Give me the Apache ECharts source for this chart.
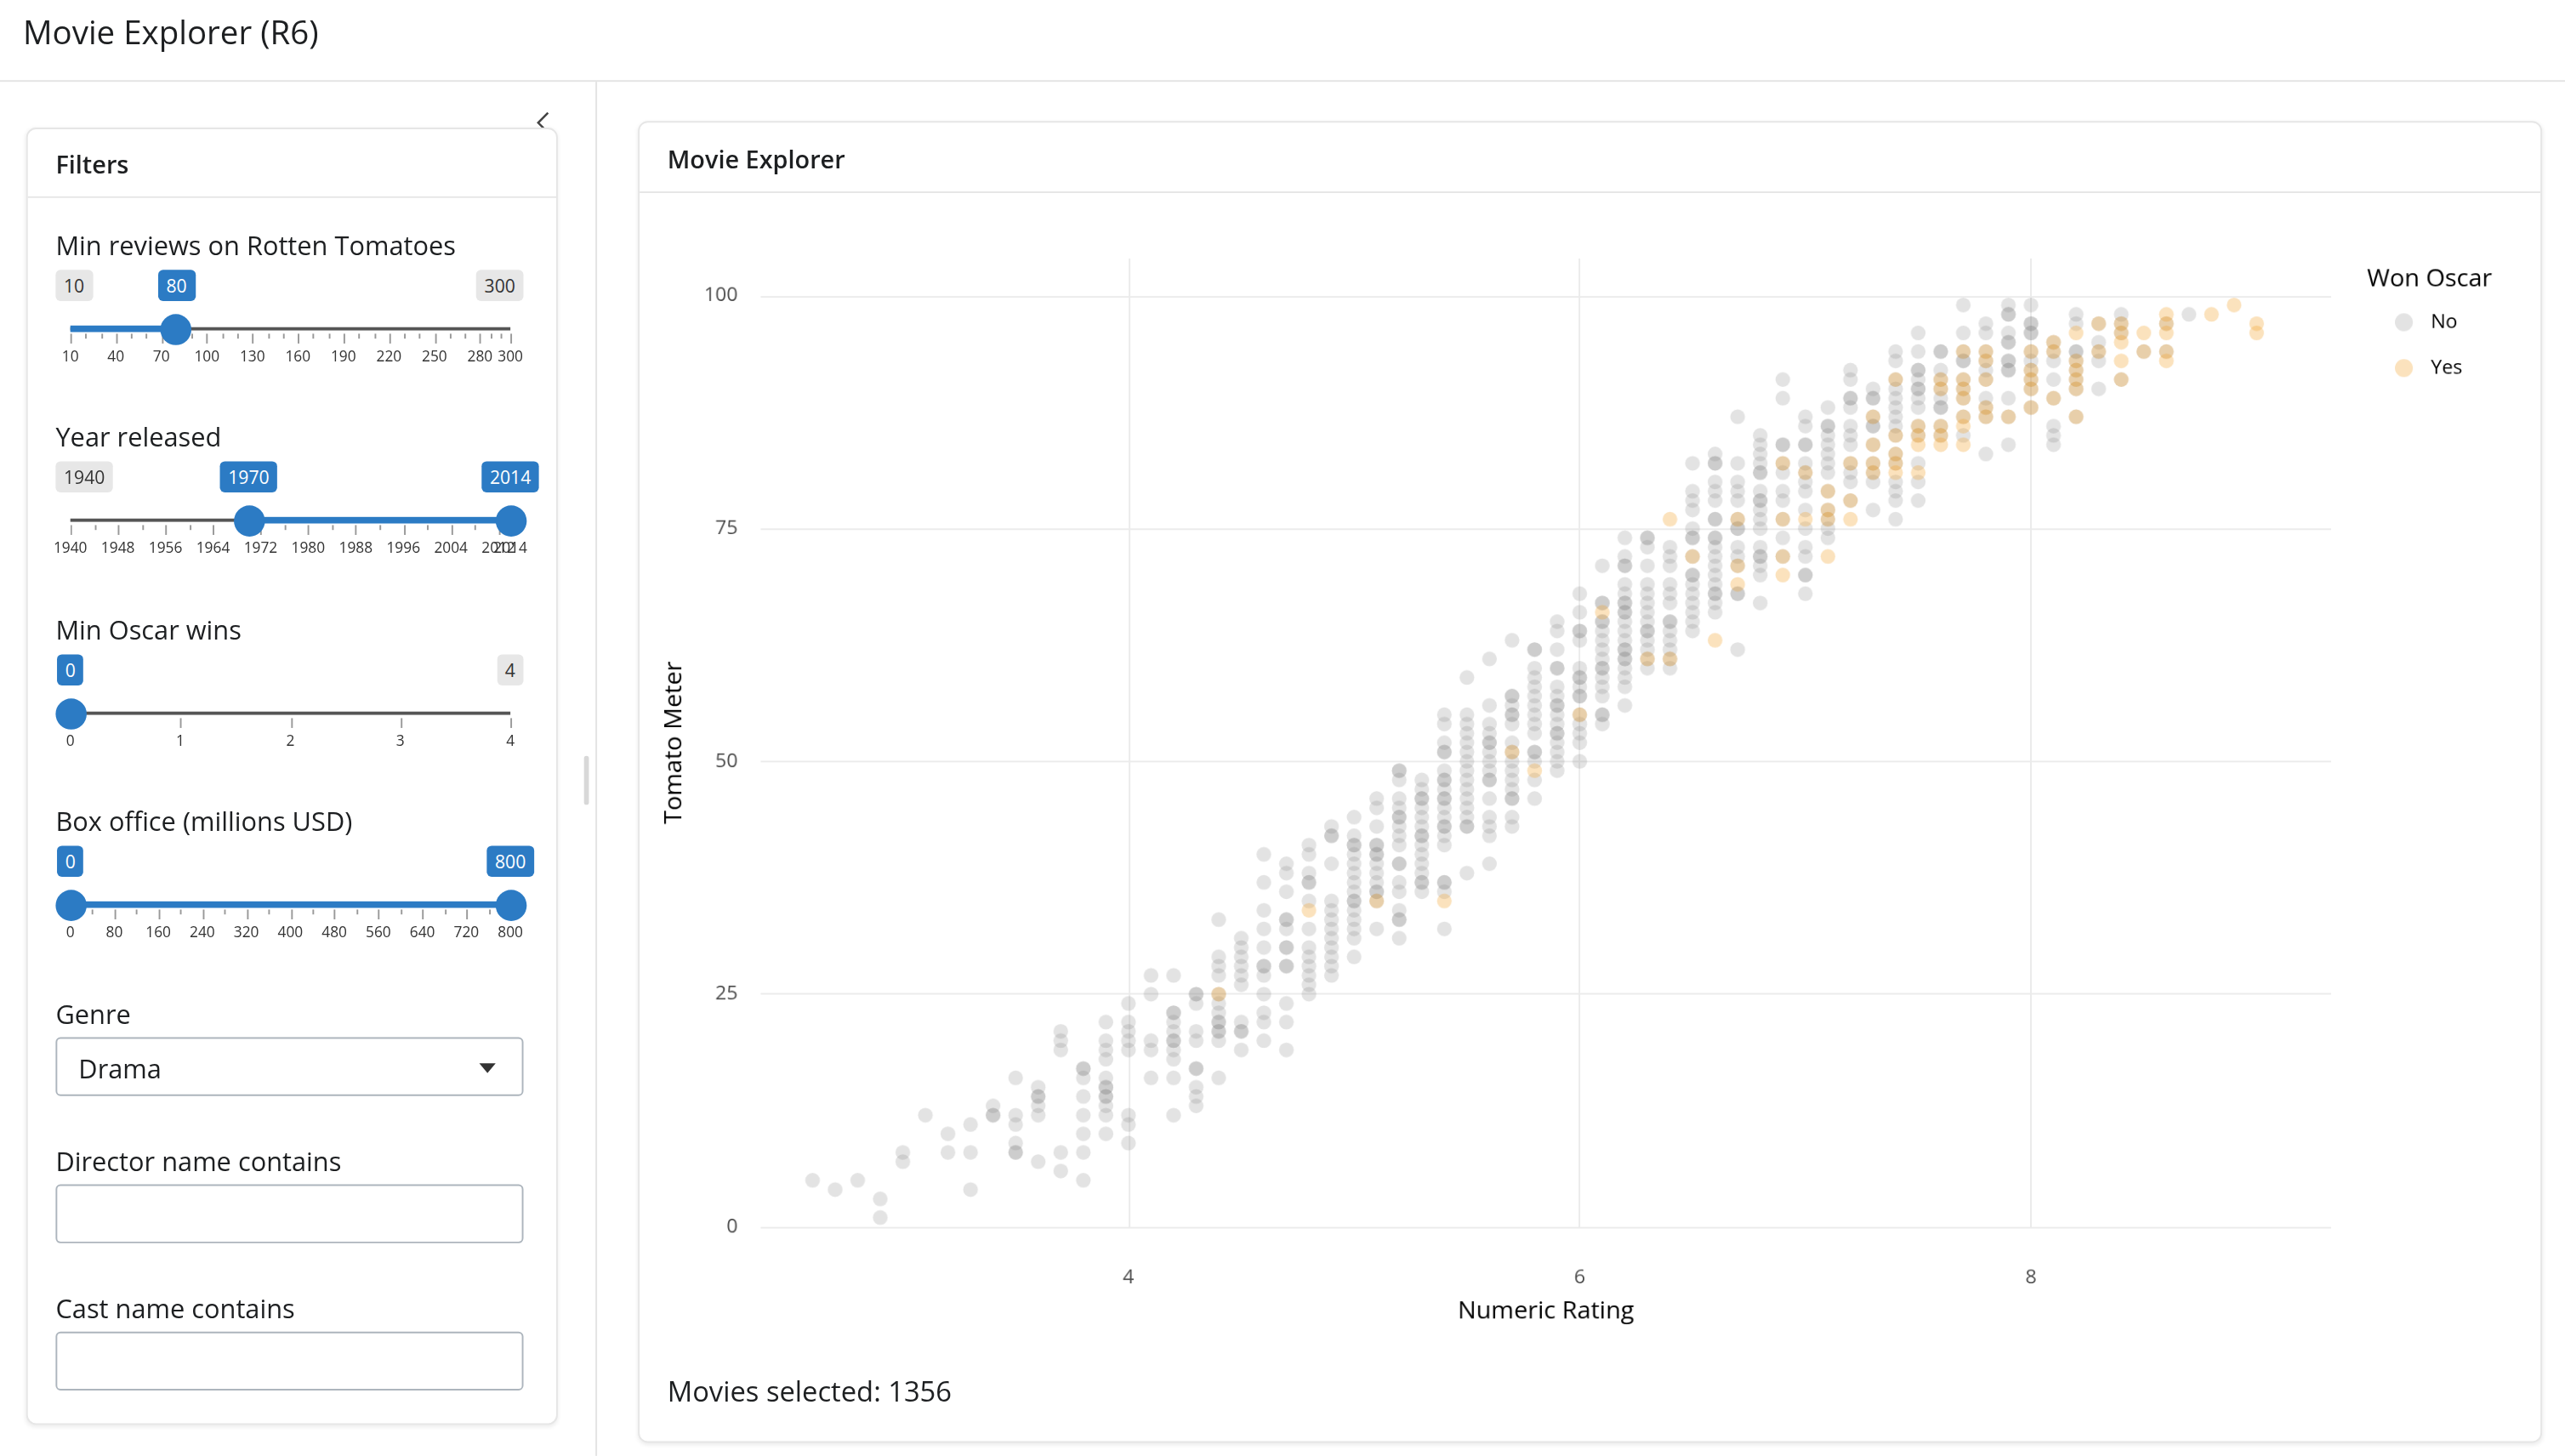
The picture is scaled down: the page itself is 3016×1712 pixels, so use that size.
<!DOCTYPE html>
<html>
<head>
<meta charset="utf-8">
<script src="https://cdn.jsdelivr.net/npm/echarts@6/dist/echarts.min.js"></script>
<style>
  html, body { margin: 0; padding: 0; background: #fff; overflow: hidden; }
  body { width: 3016px; height: 1712px; font-family: "Open Sans", "Noto Sans", sans-serif; color: #1d1f21; }
  #page { position: absolute; left: 0; top: 0; width: 1568px; height: 890px; transform: scale(1.92347); transform-origin: 0 0; }
  .abs { position: absolute; }
  .card { position: absolute; background: #fff; border: 1px solid #e6e6e6; border-radius: 6px; box-shadow: 0 1px 3px rgba(0,0,0,0.08); }
  .card-h { position: absolute; left: 0; right: 0; top: 0; border-bottom: 1px solid #e6e6e6; font-weight: 600; font-size: 15px; }
  .lbl { position: absolute; left: 34px; font-size: 16px; }
  .box { position: absolute; height: 19px; line-height: 19px; font-size: 11px; padding: 0 5px; border-radius: 3px; background: #e7e7e7; color: #333; }
  .box.blue { background: #2c7bc4; color: #fff; }
  .tick { position: absolute; width: 1px; background: #999; }
  .tl { position: absolute; font-size: 9px; color: #333; transform: translateX(-50%); }
  .handle { position: absolute; width: 19px; height: 19px; border-radius: 50%; background: #2c7bc4; margin-left: -9.5px; margin-top: -9.5px; }
  .input { position: absolute; left: 34px; width: 286px; height: 36px; border: 1px solid #adb5bd; border-radius: 3px; box-sizing: border-box; }
</style>
</head>
<body>
<div id="page">
  <div class="abs" style="left:14px;top:6px;font-size:20px;">Movie Explorer (R6)</div>
  <div class="abs" style="left:0;top:49px;width:1568px;height:1px;background:#e3e3e3;"></div>
  <div class="abs" style="left:364px;top:50px;width:1px;height:840px;background:#e3e3e3;"></div>
  <div class="abs" style="left:357px;top:462px;width:3px;height:30px;border-radius:2px;background:#d8d8d8;"></div>
  <svg class="abs" style="left:326px;top:67px;" width="12" height="16"><polyline points="9,2 3,8 9,14" fill="none" stroke="#444" stroke-width="1.3"/></svg>

  <div class="card" style="left:16px;top:78px;width:323px;height:791px;">
    <div class="card-h" style="height:41px;line-height:42px;padding-left:17px;">Filters</div>
  </div>
  <div id="sidebar"></div>

  <div class="card" style="left:390px;top:74px;width:1162px;height:806px;">
    <div class="card-h" style="height:42px;line-height:44px;padding-left:17px;">Movie Explorer</div>
    <div class="abs" style="left:17px;top:764px;font-size:17px;">Movies selected: 1356</div>
  </div>
  <div id="chart" class="abs" style="left:0;top:0;width:1568px;height:890px;"></div>
</div>
<script>
// ratings in steps of 0.1; each entry is [rating, list of tomato meters]
const noOscarCols = [
  [2.6,[5]],[2.7,[4]],[2.8,[5]],[2.9,[3,1]],[3.0,[8,7]],[3.1,[12]],[3.2,[10,8]],[3.3,[11,8,4]],
  [3.4,[13,12,12]],[3.5,[16,12,11,9,8,8]],[3.6,[15,14,14,13,12,7]],[3.7,[21,20,19,8,6]],
  [3.8,[17,17,16,14,12,10,8,5]],[3.9,[22,20,19,18,16,15,15,14,14,13,12,10]],
  [4.0,[24,22,21,20,19,12,11,9]],[4.1,[27,25,20,19,16]],[4.2,[27,23,23,22,21,20,20,19,18,16,12]],
  [4.3,[25,25,24,21,20,17,17,15,14,13]],[4.4,[33,29,28,27,25,24,23,22,22,21,21,20,16]],
  [4.5,[31,30,29,28,27,26,22,21,21,19]],[4.6,[40,37,34,32,30,28,28,27,25,23,22,20]],
  [4.7,[39,38,36,33,33,32,30,30,28,28,24,22,19]],[4.8,[41,40,38,37,37,35,32,30,29,28,27,26,25]],
  [4.9,[43,42,42,39,35,34,33,32,31,30,29,28,27]],
  [5.0,[44,42,41,41,40,39,38,37,36,35,35,34,33,32,31,29]],
  [5.1,[46,45,43,41,41,40,40,39,38,37,36,36,35,32]],
  [5.2,[49,49,48,46,45,44,44,43,42,41,39,39,37,36,34,33,33,31]],
  [5.3,[48,47,46,46,45,44,43,42,42,41,40,39,38,37,37,36]],
  [5.4,[55,54,52,51,51,49,48,48,47,46,46,45,44,43,43,42,41,37,37,36,32]],
  [5.5,[59,55,54,53,52,51,50,49,48,47,46,45,44,43,43,38]],
  [5.6,[61,56,54,53,52,52,51,50,49,48,48,46,44,43,42,39]],
  [5.7,[63,57,57,56,55,55,54,52,51,50,49,48,47,46,46,44,43]],
  [5.8,[62,62,60,59,58,57,56,55,54,53,51,51,50,48,46]],
  [5.9,[65,64,62,60,60,58,57,56,56,55,54,53,53,52,51,50,49]],
  [6.0,[68,66,64,64,63,60,59,59,58,57,57,55,54,53,52,50]],
  [6.1,[71,67,67,65,65,64,63,62,61,60,60,59,58,57,55,55,54]],
  [6.2,[74,72,71,71,69,68,67,67,66,66,65,64,63,62,62,61,61,60,59,58,56]],
  [6.3,[74,74,73,71,69,68,67,66,65,64,64,63,62,61,60]],
  [6.4,[73,72,71,69,68,67,65,65,64,63,62,61,60]],
  [6.5,[82,79,78,77,75,74,74,72,70,70,69,68,67,66,65,64]],
  [6.6,[83,82,82,80,79,78,76,76,74,74,73,72,71,70,69,68,68,67,66]],
  [6.7,[87,82,80,79,78,76,75,75,73,72,71,68,68,62]],
  [6.8,[85,84,83,82,81,81,79,78,78,77,76,75,73,72,72,71,70,67]],
  [6.9,[91,89,84,84,82,81,79,78,76,74,72]],
  [7.0,[87,86,84,84,82,81,80,79,77,75,73,72,70,70,68]],
  [7.1,[88,86,86,85,84,83,82,81,79,77,76,75,74]],
  [7.2,[92,91,89,89,88,86,85,84,82,81,80,78]],
  [7.3,[90,89,89,87,86,86,84,82,81,80,77]],
  [7.4,[94,93,91,90,89,88,87,86,85,83,82,80,79,78,76]],
  [7.5,[96,94,92,92,91,90,90,89,88,86,85,82,80,78]],
  [7.6,[94,94,92,91,90,89,88,88,86,85]],
  [7.7,[99,96,94,93,93,91,90,89,87,85]],
  [7.8,[97,96,94,93,92,91,89,88,87,83]],
  [7.9,[99,98,98,96,95,95,93,93,92,92,89,87,84]],
  [8.0,[99,97,97,96,96,94,93,92,91,90,88]],
  [8.1,[95,94,93,91,89,86,85,84]],
  [8.2,[98,97,94,94,93,92,91,90,87]],
  [8.3,[97,95,94,93,90]],
  [8.4,[98,97,96,91]],
  [8.5,[94]],[8.6,[97,94]],[8.7,[98]]
];
const yesOscarCols = [
  [4.4,[25]],[4.8,[34]],[5.1,[35]],[5.4,[35]],[5.7,[51]],[5.8,[49]],[6.0,[55]],[6.1,[66]],
  [6.3,[61]],[6.4,[76,61]],[6.5,[72]],[6.6,[63]],[6.7,[76,71,69]],[6.9,[82,76,72,70]],
  [7.0,[81,76]],[7.1,[79,77,76,72]],[7.2,[82,78,76]],[7.3,[87,84,82,81]],
  [7.4,[91,85,83,82,81]],[7.5,[86,85,84,81]],[7.6,[91,90,86,85,84]],
  [7.7,[94,91,90,89,87,86,84]],[7.8,[94,93,91,88,87]],[7.9,[87]],[8.0,[94,92,91,90,88]],
  [8.1,[95,94,89]],[8.2,[96,93,92,91,90,87]],[8.3,[97,94]],[8.4,[97,96,95,93,91]],
  [8.5,[96,94]],[8.6,[98,97,96,94,93]],[8.8,[98]],[8.9,[99]],[9.0,[97,96]]
];
const xTicks = [4, 6, 8];
const yTicks = [0, 25, 50, 75, 100];

function flatten(cols) {
  const out = [];
  cols.forEach(c => c[1].forEach(v => out.push([c[0], v])));
  return out;
}

// ---- sidebar widgets ----
const sb = document.getElementById('sidebar');
function add(html) { sb.insertAdjacentHTML('beforeend', html); }
const X0 = 43, X1 = 312;

function slider(o) {
  const pos = v => X0 + (v - o.min) / (o.max - o.min) * (X1 - X0);
  add(`<div class="lbl" style="top:${o.top - 62}px">${o.label}</div>`);
  add(`<div class="abs" style="left:${X0}px;top:${o.top - 1}px;width:${X1 - X0}px;height:2px;background:#555;"></div>`);
  if (o.fill) {
    const a = pos(o.fill[0]), b = pos(o.fill[1]);
    add(`<div class="abs" style="left:${a}px;top:${o.top - 2}px;width:${b - a}px;height:4px;background:#2c7bc4;"></div>`);
  }
  if (!o.hideMin) add(`<div class="box" style="left:34px;top:${o.top - 36}px">${o.min}</div>`);
  if (!o.hideMax) add(`<div class="box" style="right:${1568 - 320}px;top:${o.top - 36}px">${o.max}</div>`);
  o.values.forEach(v => {
    add(`<div class="box blue" style="left:${pos(v)}px;top:${o.top - 36}px;transform:translateX(-50%)">${v}</div>`);
  });
  o.labels.forEach((v, i) => {
    const x = pos(v);
    add(`<div class="tick" style="left:${x}px;top:${o.top + 3}px;height:6px"></div>`);
    add(`<div class="tl" style="left:${x}px;top:${o.top + 10}px">${v}</div>`);
    if (i < o.labels.length - 1) {
      const nx = pos(o.labels[i + 1]);
      for (let k = 1; k < o.minor; k++) {
        const mx = x + (nx - x) * k / o.minor;
        add(`<div class="tick" style="left:${mx}px;top:${o.top + 3}px;height:3px"></div>`);
      }
    }
  });
  o.values.forEach(v => add(`<div class="handle" style="left:${pos(v)}px;top:${o.top}px"></div>`));
}

slider({ label: 'Min reviews on Rotten Tomatoes', top: 201, min: 10, max: 300, values: [80],
  fill: [10, 80], labels: [10, 40, 70, 100, 130, 160, 190, 220, 250, 280, 300], minor: 3 });
slider({ label: 'Year released', top: 318, min: 1940, max: 2014, values: [1970, 2014], hideMax: true,
  fill: [1970, 2014], labels: [1940, 1948, 1956, 1964, 1972, 1980, 1988, 1996, 2004, 2012, 2014], minor: 2 });
slider({ label: 'Min Oscar wins', top: 436, min: 0, max: 4, values: [0], hideMin: true,
  fill: null, labels: [0, 1, 2, 3, 4], minor: 1 });
slider({ label: 'Box office (millions USD)', top: 553, min: 0, max: 800, values: [0, 800], hideMin: true, hideMax: true,
  fill: [0, 800], labels: [0, 80, 160, 240, 320, 400, 480, 560, 640, 720, 800], minor: 2 });

add(`<div class="lbl" style="top:609px">Genre</div>`);
add(`<div class="input" style="top:634px;font-size:16px;line-height:36px;padding-left:13px;">Drama
  <div class="abs" style="left:258px;top:15px;width:0;height:0;border-left:5px solid transparent;border-right:5px solid transparent;border-top:6px solid #333;"></div></div>`);
add(`<div class="lbl" style="top:699px">Director name contains</div>`);
add(`<div class="input" style="top:724px"></div>`);
add(`<div class="lbl" style="top:789px">Cast name contains</div>`);
add(`<div class="input" style="top:814px"></div>`);

// ---- chart ----
const chart = echarts.init(document.getElementById('chart'), null, { devicePixelRatio: 2 });
const gridColor = '#ebebeb';
const gridLines = xTicks.map(v => [{ coord: [v, 0] }, { coord: [v, 104] }])
  .concat(yTicks.map(v => [{ coord: [2.37, v] }, { coord: [9.33, v] }]));
chart.setOption({
  animation: false,
  textStyle: { fontFamily: 'Open Sans, Noto Sans, sans-serif' },
  grid: { left: 465, top: 158, width: 960, height: 592 },
  xAxis: {
    type: 'value', min: 2.37, max: 9.33,
    name: 'Numeric Rating', nameLocation: 'middle', nameGap: 44,
    nameTextStyle: { fontSize: 15, color: '#000' },
    axisLine: { show: false }, axisTick: { show: false }, splitLine: { show: false },
    axisLabel: { customValues: xTicks, color: '#4d4d4d', fontSize: 12, margin: 25 }
  },
  yAxis: {
    type: 'value', min: 0, max: 104, interval: 25,
    name: 'Tomato Meter', nameLocation: 'middle', nameGap: 36, nameRotate: 90,
    nameTextStyle: { fontSize: 15, color: '#000' },
    axisLine: { show: false }, axisTick: { show: false }, splitLine: { show: false },
    axisLabel: { color: '#4d4d4d', fontSize: 12, margin: 14,
      formatter: v => (yTicks.indexOf(v) >= 0 ? v : '') }
  },
  legend: {
    orient: 'vertical', left: 1459, top: 186, itemGap: 16, itemWidth: 11, itemHeight: 11,
    icon: 'circle', textStyle: { fontSize: 12, color: '#000', padding: [0, 0, 0, 6] },
    data: ['No', 'Yes']
  },
  graphic: [{ type: 'text', left: 1447, top: 163, style: { text: 'Won Oscar', fontSize: 15, fill: '#000',
    fontFamily: 'Open Sans, sans-serif' } }],
  series: [
    {
      name: 'No', type: 'scatter', symbolSize: 9, clip: false,
      itemStyle: { color: 'rgba(128,128,128,0.28)' },
      data: flatten(noOscarCols),
      markLine: {
        silent: true, symbol: 'none', label: { show: false }, animation: false,
        lineStyle: { color: gridColor, type: 'solid', width: 1 },
        data: gridLines, z: 0
      }
    },
    {
      name: 'Yes', type: 'scatter', symbolSize: 9, clip: false,
      itemStyle: { color: 'rgba(243,160,40,0.38)' },
      data: flatten(yesOscarCols)
    }
  ]
});
</script>
</body>
</html>
